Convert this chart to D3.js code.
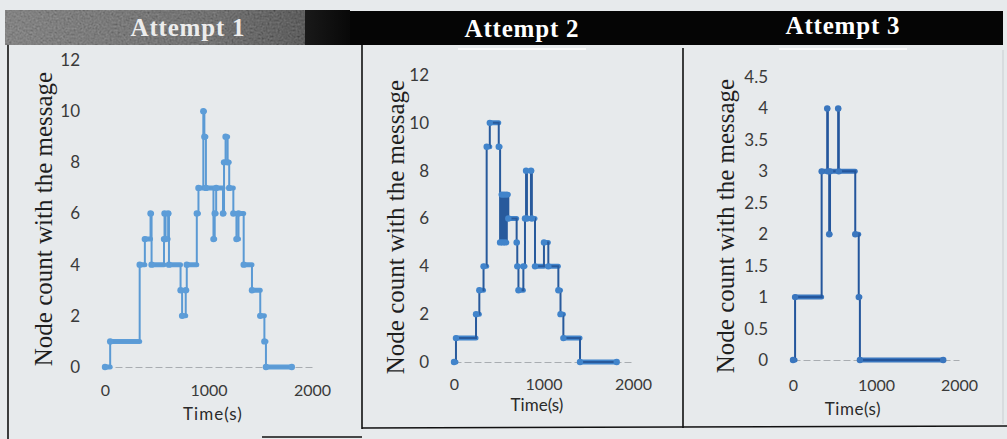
<!DOCTYPE html>
<html>
<head>
<meta charset="utf-8">
<script src="https://cdn.jsdelivr.net/npm/d3@7"></script>
<style>
  body { margin: 0; background: #e7eaec; }
  svg { display: block; }
</style>
</head>
<body>
<svg width="1007" height="439"></svg>
<script>
// values: time (s) and node count, as step points
var titles = ["Attempt 1", "Attempt 2", "Attempt 3"];
var xTicks = [0, 1000, 2000];
var yTicks12 = [0, 2, 4, 6, 8, 10, 12];
var yTicks45 = [0, 0.5, 1, 1.5, 2, 2.5, 3, 3.5, 4, 4.5];

var time1 = [0, 50, 335, 385, 440, 450, 570, 575, 585, 610, 618, 730, 745, 780, 790, 887, 903, 950, 960, 975, 1048, 1060, 1074, 1140, 1150, 1165, 1185, 1200, 1240, 1270, 1290, 1340, 1420, 1500, 1540, 1555, 1805];
var count1 = [0, 1, 4, 5, 6, 4, 5, 6, 5, 6, 4, 3, 2, 3, 4, 6, 7, 10, 9, 7, 5, 6, 7, 6, 8, 9, 8, 7, 6, 5, 6, 4, 3, 2, 1, 0, 0];

var time2 = [0, 22, 246, 283, 330, 365, 400, 500, 515, 533, 545, 560, 575, 590, 607, 700, 707, 720, 775, 793, 805, 815, 860, 870, 905, 1005, 1054, 1166, 1190, 1222, 1408, 1818];
var count2 = [0, 1, 2, 3, 4, 9, 10, 9, 5, 7, 5, 7, 5, 7, 6, 5, 4, 3, 4, 6, 8, 6, 8, 6, 4, 5, 4, 3, 2, 1, 0, 0];

var time3 = [0, 25, 345, 412, 420, 436, 446, 544, 552, 750, 792, 806, 1810];
var count3 = [0, 1, 3, 4, 3, 2, 3, 4, 3, 2, 1, 0, 0];

var svg = d3.select("svg"),
    width = +svg.attr("width"),
    height = +svg.attr("height");

// header noise for the scanned first title cell
var defs = svg.append("defs");
var grad = defs.append("linearGradient").attr("id", "hdr1");
grad.append("stop").attr("offset", "0%").attr("stop-color", "#5a5a5a");
grad.append("stop").attr("offset", "60%").attr("stop-color", "#3c3c3c");
grad.append("stop").attr("offset", "100%").attr("stop-color", "#080808");
var noise = defs.append("filter").attr("id", "noise")
    .attr("x", 0).attr("y", 0).attr("width", 1).attr("height", 1);
noise.append("feTurbulence").attr("type", "fractalNoise")
    .attr("baseFrequency", 0.5).attr("numOctaves", 2).attr("seed", 4);
noise.append("feColorMatrix").attr("type", "matrix")
    .attr("values", "0.4 0.4 0.4 0 -0.1  0.4 0.4 0.4 0 -0.1  0.4 0.4 0.4 0 -0.1  0 0 0 0 0.7");

svg.append("rect").attr("width", width).attr("height", height).attr("fill", "#e7eaec");

// title bar
svg.append("rect").attr("x", 5).attr("y", 11).attr("width", 998).attr("height", 34).attr("fill", "#050505");
svg.append("rect").attr("x", 5).attr("y", 10).attr("width", 345).attr("height", 35).attr("fill", "url(#hdr1)");
svg.append("rect").attr("x", 5).attr("y", 10).attr("width", 300).attr("height", 35)
   .attr("filter", "url(#noise)").attr("opacity", 0.6);

// panel frames
var frame = svg.append("g").attr("stroke", "#111").attr("stroke-width", 1.6).attr("fill", "none");
frame.append("line").attr("x1", 8).attr("y1", 45).attr("x2", 8).attr("y2", 439);
frame.append("line").attr("x1", 362).attr("y1", 45).attr("x2", 362).attr("y2", 429);
frame.append("line").attr("x1", 683).attr("y1", 48).attr("x2", 683).attr("y2", 428);
frame.append("line").attr("x1", 262).attr("y1", 437).attr("x2", 362).attr("y2", 437);
frame.append("line").attr("x1", 362).attr("y1", 428).attr("x2", 1007).attr("y2", 426);
svg.append("line").attr("x1", 1003).attr("y1", 50).attr("x2", 1003).attr("y2", 424)
   .attr("stroke", "#c9cdd0").attr("stroke-width", 1);

var panels = [
  { title: titles[0], tx: 188, ty: 36, time: time1, count: count1, ticks: yTicks12, ymax: 12,
    x0: 105, x1: 312, y0: 367, y1: 60, tickY: 391, labY: 414, labX: 213, ytX: 43, ytY: 219,
    run: "#5d9dd8", line: "#5b9ad4", ls: 1 },
  { title: titles[1], tx: 522, ty: 37, time: time2, count: count2, ticks: yTicks12, ymax: 12,
    x0: 454, x1: 633, y0: 362, y1: 75, tickY: 385, labY: 405, labX: 537, ytX: 395, ytY: 227,
    run: "#4184cb", line: "#285a9c", ls: 0 },
  { title: titles[2], tx: 843, ty: 34, time: time3, count: count3, ticks: yTicks45, ymax: 4.5,
    x0: 793, x1: 959, y0: 360, y1: 77, tickY: 386, labY: 409, labX: 853, ytX: 725, ytY: 226,
    run: "#3a76be", line: "#24569c", ls: 0.5 }
];

panels.forEach(function(p, k) {
  var x = d3.scaleLinear().domain([0, 2000]).range([p.x0, p.x1]);
  var y = d3.scaleLinear().domain([0, p.ymax]).range([p.y0, p.y1]);
  var g = svg.append("g");

  // title
  svg.append("text")
     .attr("x", p.tx).attr("y", p.ty)
     .attr("text-anchor", "middle")
     .attr("fill", k == 0 ? "#ececec" : "#ffffff")
     .style("font-family", "'Liberation Serif', 'DejaVu Serif', serif")
     .style("font-weight", "bold")
     .style("font-size", "25px")
     .style("letter-spacing", "0.8px")
     .text(p.title);
  if (k > 0) {
    svg.append("line").attr("x1", p.tx - 64).attr("x2", p.tx + 64)
       .attr("y1", 49).attr("y2", 49).attr("stroke", "#fafafa").attr("stroke-width", 2);
  }

  // y axis (labels only)
  var ya = g.append("g")
     .attr("transform", "translate(" + (p.x0 - 25) + ",0)")
     .call(d3.axisLeft(y).tickValues(p.ticks).tickSize(0).tickPadding(0)
           .tickFormat(d3.format("")));
  ya.select(".domain").remove();
  ya.selectAll("text")
     .attr("fill", "#3a3a3a")
     .style("font-family", "Lato, 'Open Sans', sans-serif")
     .style("font-size", "17px");

  // x axis: dashed baseline + labels
  var xa = g.append("g")
     .attr("transform", "translate(0," + p.y0 + ")")
     .call(d3.axisBottom(x).tickValues(xTicks).tickSize(0).tickPadding(p.tickY - p.y0 - 6)
           .tickFormat(d3.format("")));
  xa.select(".domain")
     .attr("stroke", "#a9adb1").attr("stroke-width", 1.2).attr("stroke-dasharray", "7,3");
  xa.selectAll("text")
     .attr("fill", "#3a3a3a")
     .style("font-family", "Lato, 'Open Sans', sans-serif")
     .style("font-size", "16px");

  g.append("text")
     .attr("x", p.labX).attr("y", p.labY + 6)
     .attr("text-anchor", "middle")
     .attr("fill", "#2a2a2a")
     .style("font-family", "Lato, 'Open Sans', sans-serif")
     .style("font-size", "17px")
     .style("letter-spacing", p.ls + "px")
     .text("Time(s)");

  g.append("text")
     .attr("transform", "translate(" + p.ytX + "," + p.ytY + ") rotate(-90)")
     .attr("text-anchor", "middle")
     .attr("dy", "0.35em")
     .attr("fill", "#1e1e1e")
     .style("font-family", "'Liberation Serif', 'DejaVu Serif', serif")
     .style("font-size", "25px")
     .text("Node count with the message");

  var pts = p.time.map(function(t, i) { return { t: t, v: p.count[i] }; });

  // thick runs between changes
  g.selectAll(".run")
     .data(pts.slice(0, -1))
     .enter().append("line")
     .attr("class", "run")
     .attr("x1", function(d) { return x(d.t); })
     .attr("x2", function(d, i) { return x(pts[i + 1].t); })
     .attr("y1", function(d) { return y(d.v); })
     .attr("y2", function(d) { return y(d.v); })
     .attr("stroke", p.run)
     .attr("stroke-width", 5)
     .attr("stroke-linecap", "round");

  var line = d3.line()
     .x(function(d) { return x(d.t); })
     .y(function(d) { return y(d.v); })
     .curve(d3.curveStepAfter);

  g.append("path")
     .datum(pts)
     .attr("d", line)
     .attr("fill", "none")
     .attr("stroke", p.line)
     .attr("stroke-width", 2);

  g.selectAll(".pt")
     .data(pts)
     .enter().append("circle")
     .attr("class", "pt")
     .attr("cx", function(d) { return x(d.t); })
     .attr("cy", function(d) { return y(d.v); })
     .attr("r", 3.2)
     .attr("fill", p.run);
});
</script>
</body>
</html>
